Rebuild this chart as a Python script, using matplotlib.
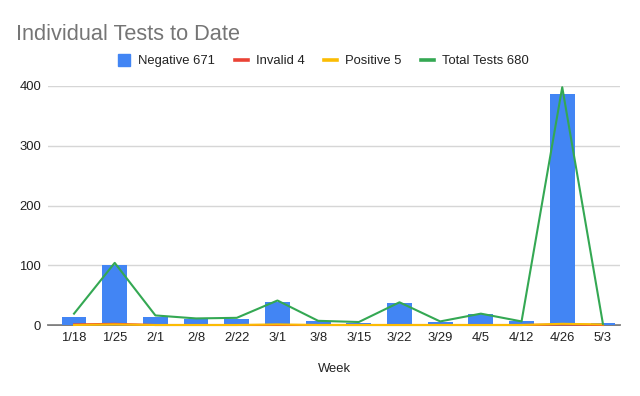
import numpy as np
import matplotlib.pyplot as plt
from matplotlib.lines import Line2D

plt.rcParams['font.family'] = ['Liberation Sans', 'DejaVu Sans']

# weekly counts
weeks = ["1/18", "1/25", "2/1", "2/8", "2/22", "3/1", "3/8",
         "3/15", "3/22", "3/29", "4/5", "4/12", "4/26", "5/3"]
negative = [14, 100, 14, 10, 10, 39, 6, 4, 37, 5, 18, 6, 387, 4]
invalid = [1, 2, 0, 0, 0, 0, 0, 0, 0, 0, 0, 0, 1, 0]
positive = [0, 1, 0, 0, 0, 1, 0, 0, 0, 0, 0, 0, 2, 1]
total = [19, 104, 16, 11, 12, 41, 7, 5, 38, 6, 19, 6, 398, 2]
labels = ["Negative 671", "Invalid 4", "Positive 5", "Total Tests 680"]

blue = "#4285F4"
red = "#EA4335"
yellow = "#FBBC04"
green = "#34A853"

fig = plt.figure(figsize=(6.4, 3.96), dpi=100)
ax = fig.add_axes([48 / 640, 1 - 325 / 396, 572 / 640, 239 / 396])

x = np.arange(len(weeks))
ax.bar(x, negative, width=0.61, color=blue, zorder=2)
ax.plot(x, invalid, color=red, lw=1.5, zorder=3, clip_on=False)
ax.plot(x, positive, color=yellow, lw=1.5, zorder=4, clip_on=False)
ax.plot(x, total, color=green, lw=1.5, zorder=5, clip_on=False)

ax.set_xlim(-0.64, 13.42)
ax.set_ylim(0, 400)
ax.set_yticks([0, 100, 200, 300, 400])
ax.set_xticks(x)
ax.set_xticklabels(weeks)
ax.grid(axis="y", color="#d6d6d6", lw=1, zorder=0)
for s in ["top", "right", "left"]:
    ax.spines[s].set_visible(False)
ax.spines["bottom"].set_color("#666666")
ax.spines["bottom"].set_linewidth(1.2)
ax.spines["bottom"].set_zorder(1)
ax.tick_params(axis="both", length=0, labelsize=9.4, labelcolor="#222222")
ax.tick_params(axis="x", pad=5)
ax.tick_params(axis="y", pad=5)
ax.set_xlabel("Week", fontsize=9.4, color="#222222", labelpad=14)

fig.text(16 / 640, 1 - 35 / 396, "Individual Tests to Date", fontsize=15.7,
         color="#757575", va="center", ha="left")

handles = [
    Line2D([], [], marker="s", ls="none", color=blue, markersize=8.6),
    Line2D([], [], color=red, lw=2.6),
    Line2D([], [], color=yellow, lw=2.6),
    Line2D([], [], color=green, lw=2.6),
]
fig.legend(handles, labels, loc="center", bbox_to_anchor=(323 / 640, 1 - 61 / 396),
           ncol=4, frameon=False, fontsize=9.4, handlelength=1.0,
           handletextpad=0.6, columnspacing=1.5, labelcolor="#222222")

fig.savefig("out.png", dpi=100, facecolor="white")
